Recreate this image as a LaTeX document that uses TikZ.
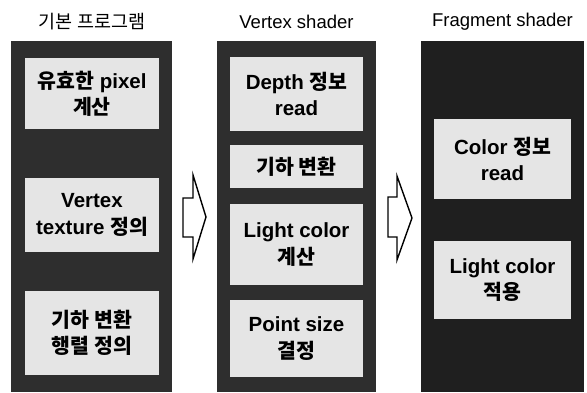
\documentclass[tikz,border=0pt]{standalone}
\usepackage{fontspec}
\setmainfont{Liberation Sans}
\newfontfamily\kr{Noto Sans CJK KR}
\newcommand{\K}[1]{{\kr #1}}
\begin{document}
\begin{tikzpicture}[x=1pt,y=-1pt,
  outerbox/.style={draw=none, fill=black!82, inner sep=0pt, minimum height=351pt},
  innerbox/.style={draw=none, fill=black!10, inner sep=0pt, align=center,
    font=\fontsize{20.5}{26.5}\selectfont\bfseries},
  title/.style={inner sep=0pt, font=\fontsize{18.5}{22}\selectfont},
  blockarrow/.style={draw=black, line width=1.4pt, fill=white, line join=miter}
]
\useasboundingbox (0,0) rectangle (587,393);
\fill[white] (0,0) rectangle (587,393);

% titles
\node[title] (t1) at (92,22) {\K{기본 프로그램}};
\node[title] (t2) at (296.5,22) {Vertex shader};
\node[title] (t3) at (502.5,22) {Fragment shader};

% outer columns
\node[outerbox, minimum width=161pt] (c1) at (91.5,216.5) {};
\node[outerbox, minimum width=159pt] (c2) at (296.5,216.5) {};
\node[outerbox, minimum width=163pt, fill=black!88] (c3) at (502.5,216.5) {};

% column 1
\node[innerbox, minimum width=134pt, minimum height=71pt] (a1) at (92,94) {\K{유효한} pixel\\\K{계산}};
\node[innerbox, minimum width=134pt, minimum height=74pt] (a2) at (92,215) {Vertex\\texture \K{정의}};
\node[innerbox, minimum width=134pt, minimum height=84pt] (a3) at (92,333) {\K{기하 변환}\\\K{행렬 정의}};

% column 2
\node[innerbox, minimum width=133pt, minimum height=74pt] (b1) at (296.5,94) {Depth \K{정보}\\read};
\node[innerbox, minimum width=133pt, minimum height=43pt] (b2) at (296.5,166.5) {\K{기하 변환}};
\node[innerbox, minimum width=133pt, minimum height=81pt] (b3) at (296.5,244.5) {Light color\\\K{계산}};
\node[innerbox, minimum width=133pt, minimum height=77pt] (b4) at (296.5,338.5) {Point size\\\K{결정}};

% column 3
\node[innerbox, minimum width=137pt, minimum height=80pt] (d1) at (502.5,159) {Color \K{정보}\\read};
\node[innerbox, minimum width=137pt, minimum height=78pt] (d2) at (502.5,280) {Light color\\\K{적용}};

% block arrows
\draw[blockarrow] (183,198) -- (193,198) -- (193,175) -- (206,217) -- (193,259) -- (193,237) -- (183,237) -- cycle;
\draw[blockarrow] (388,197) -- (397,197) -- (397,176) -- (412,218) -- (397,260) -- (397,237) -- (388,237) -- cycle;
\end{tikzpicture}
\end{document}
